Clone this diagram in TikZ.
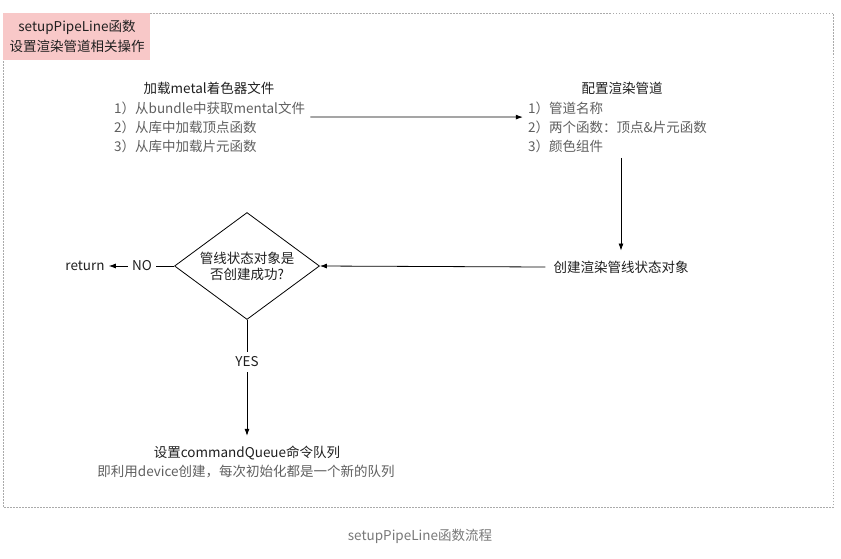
\documentclass[tikz,border=0pt]{standalone}
\usepackage{fontspec}
\setmainfont{Noto Sans CJK SC}
\usetikzlibrary{arrows.meta,shapes.geometric,fit}
\definecolor{pinkbg}{RGB}{248,200,200}
\definecolor{itemgray}{RGB}{95,95,95}
\definecolor{capgray}{RGB}{120,120,120}
\definecolor{framegray}{RGB}{170,170,170}
\begin{document}
\begin{tikzpicture}[x=1pt,y=-1pt,
  txt/.style={inner sep=1pt, font=\fontsize{13.5}{16}\selectfont, text=black!88},
  item/.style={txt, text=itemgray, anchor=west},
  blk/.style={inner sep=4pt},
  conn/.style={line width=0.8pt, draw=black},
  arr/.style={conn, -{Latex[length=7pt,width=5pt]}}
]
\useasboundingbox (0,0) rectangle (841,558);
% frame
\draw[framegray, line width=0.7pt, dash pattern=on 1.5pt off 1.5pt] (3,13) rectangle (833,507);
\fill[pinkbg] (3,13) rectangle (150,60);
\node[txt] (t1) at (77,27) {setupPipeLine函数};
\node[txt] (t2) at (77,46) {设置渲染管道相关操作};

% load block
\node[txt] (lt) at (209,88) {加载metal着色器文件};
\node[item] (l1) at (113,108) {1）从bundle中获取mental文件};
\node[item] (l2) at (113,127) {2）从库中加载顶点函数};
\node[item] (l3) at (113,146) {3）从库中加载片元函数};
\node[blk, fit=(lt)(l1)(l2)(l3)] (load) {};

% config block
\node[txt] (ct) at (622,88) {配置渲染管道};
\node[item] (c1) at (527,108) {1）管道名称};
\node[item] (c2) at (527,127) {2）两个函数：顶点\&片元函数};
\node[item] (c3) at (527,146) {3）颜色组件};
\node[blk, fit=(ct)(c1)(c2)(c3)] (cfg) {};

\draw[arr] (load.east) -- (cfg.west);

\node[txt, inner sep=1pt] (create) at (621,267) {创建渲染管线状态对象};
\draw[arr] (create.north |- cfg.south) -- ([yshift=9pt]create.north);

% decision
\node[diamond, draw, line width=0.8pt, minimum width=145pt, minimum height=107pt, inner sep=0pt] (dec) at (247,266) {};
\node[txt, align=center] (dect) at (247,266) {管线状态对象是\\否创建成功?};
\draw[arr] ([xshift=-7pt]create.west) -- (dec.east);

\node[txt, inner sep=4pt] (no) at (142,266) {NO};
\node[txt, inner sep=4pt] (ret) at (85,266) {return};
\draw[conn] (dec.west) -- (no.east);
\draw[arr] (no.west) -- (ret.east);

\node[txt, inner sep=5pt] (yes) at (247,362) {YES};
\draw[conn] (dec.south) -- (yes.north);

\node[txt] (cmd) at (247,453) {设置commandQueue命令队列};
\node[txt, text=itemgray] (cmd2) at (246,472) {即利用device创建，每次初始化都是一个新的队列};
\draw[arr] (yes.south) -- ([yshift=9pt]cmd.north);

\node[txt, text=capgray] (cap) at (420,536) {setupPipeLine函数流程};
\end{tikzpicture}
\end{document}
